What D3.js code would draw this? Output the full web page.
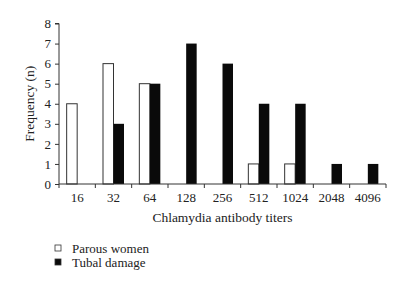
<!DOCTYPE html>
<html><head><meta charset="utf-8">
<script src="https://cdn.jsdelivr.net/npm/d3@7"></script>
<style>body{margin:0;background:#fff}svg{display:block}text{font-family:"Liberation Serif","DejaVu Serif",serif;fill:#222}</style>
</head><body><svg id="c" width="400" height="285"></svg>
<script>
const categories = ["16","32","64","128","256","512","1024","2048","4096"];
const parous = [4,6,5,0,0,1,1,0,0];
const tubal = [0,3,5,7,6,4,4,1,1];
const seriesNames = ["Parous women","Tubal damage"];
const yTicks = [0,1,2,3,4,5,6,7,8];

const svg = d3.select("#c");
const x0 = 59, x1 = 386, yTop = 23.5, yBot = 184;
const x = d3.scaleBand().domain(categories).range([x0, x1]);
const y = d3.scaleLinear().domain([0, 8]).range([yBot, yTop]);
const bw = 10.5;

const g = svg.append("g");
// bars
categories.forEach((c, i) => {
  const cx = x(c) + x.bandwidth() / 2;
  if (parous[i] > 0) g.append("rect").attr("x", cx - bw).attr("y", y(parous[i])).attr("width", bw).attr("height", yBot - y(parous[i]))
    .attr("fill", "#fff").attr("stroke", "#333").attr("stroke-width", 1);
  if (tubal[i] > 0) g.append("rect").attr("x", cx).attr("y", y(tubal[i])).attr("width", bw).attr("height", yBot - y(tubal[i]))
    .attr("fill", "#0a0a0a");
});

// y axis
const ya = svg.append("g").attr("transform", `translate(${x0},0)`)
  .call(d3.axisLeft(y).tickValues(yTicks).tickSize(4).tickPadding(4).tickFormat(d3.format("d")));
ya.select(".domain").attr("stroke", "#333").attr("d", `M-4,${yTop}H0V${yBot}`);
ya.selectAll(".tick line").attr("stroke", "#333");
ya.selectAll("text").attr("font-size", 13).attr("font-family", "Liberation Serif").attr("fill", "#222");

// x axis
const xa = svg.append("g").attr("transform", `translate(0,${yBot})`)
  .call(d3.axisBottom(x).tickSize(0).tickPadding(9));
xa.select(".domain").attr("stroke", "#333").attr("d", `M${x0},0H${x1}`);
xa.selectAll("text").attr("font-size", 13).attr("font-family", "Liberation Serif").attr("fill", "#222");
const bounds = categories.map(c => x(c)).concat([x1]);
xa.selectAll(".bnd").data(bounds).enter().append("line").attr("class", "bnd")
  .attr("x1", d => d).attr("x2", d => d).attr("y1", 0).attr("y2", 4).attr("stroke", "#333");

// labels
svg.append("text").attr("x", (x0 + x1) / 2).attr("y", 222).attr("text-anchor", "middle").attr("font-size", 13.5).text("Chlamydia antibody titers");
svg.append("text").attr("transform", `translate(34,${(yTop + yBot) / 2}) rotate(-90)`).attr("text-anchor", "middle").attr("font-size", 13.5).text("Frequency (n)");

// legend
const leg = svg.append("g");
seriesNames.forEach((n, i) => {
  const ly = 249 + i * 14;
  leg.append("rect").attr("x", 55).attr("y", ly - 4).attr("width", 6).attr("height", 6)
    .attr("fill", i === 0 ? "#fff" : "#0a0a0a").attr("stroke", "#333").attr("stroke-width", 0.8);
  leg.append("text").attr("x", 72).attr("y", ly + 4).attr("font-size", 13).text(n);
});
</script></body></html>
